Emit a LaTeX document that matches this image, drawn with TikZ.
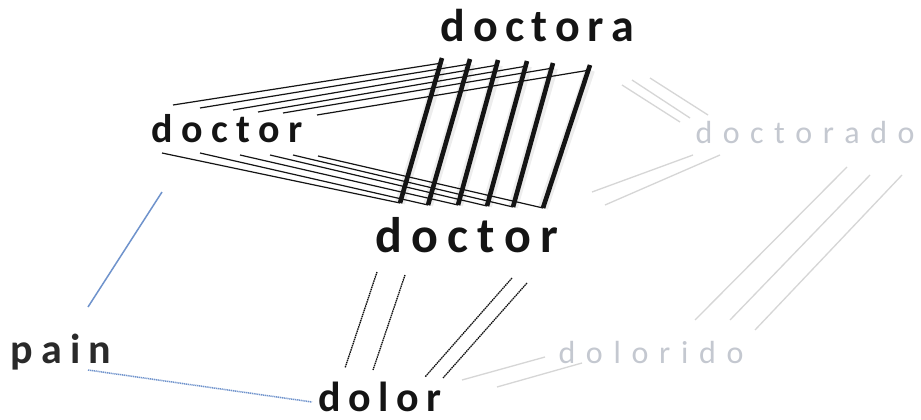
\documentclass[tikz,border=0pt]{standalone}
\usepackage{fontspec}
\setmainfont{Carlito}
\usetikzlibrary{calc}
\definecolor{ink}{HTML}{141414}
\definecolor{inkgray}{HTML}{2A2A2A}
\definecolor{faint}{HTML}{C4C8D0}
\definecolor{faintline}{HTML}{D6D6D6}
\definecolor{bluel}{HTML}{6F93CC}
\newdimen\spckk
\def\spcword#1#2\relax{#1\spcrest#2\relax}
\def\spcrest#1{\ifx#1\relax\else\kern\spckk#1\expandafter\spcrest\fi}
\newcommand\spcd[2]{\spckk=#1\relax\spcword#2\relax}
\begin{document}
\begin{tikzpicture}[x=1pt,y=-1pt,
  word/.style={inner sep=0pt,anchor=base,text=ink},
  boldword/.style={word,font=\fontsize{#1}{#1}\selectfont\bfseries},
  lightword/.style={word,text=faint,font=\fontsize{#1}{#1}\selectfont},
  thinlink/.style={draw=ink,line width=1.2pt},
  thicklink/.style={draw=ink,line width=4.6pt},
  shadowlink/.style={draw=black,line width=10pt,opacity=0.07},
  dashlink/.style={draw=ink,line width=1.3pt,dash pattern=on 1.5pt off 0.7pt},
  fadelink/.style={draw=faintline,line width=1.3pt},
  bluelink/.style={draw=bluel,line width=1.5pt},
  bluedot/.style={draw=bluel,line width=1.5pt,dash pattern=on 1.2pt off 0.7pt}]
\useasboundingbox (0,0) rectangle (921,420);
\fill[white] (0,0) rectangle (921,420);

% words
\node[boldword=46] (doctora) at (537.5,42) {\spcd{7.5pt}{doctora}};
\node[boldword=40] (doctorL) at (227,142) {\spcd{8.5pt}{doctor}};
\node[boldword=50] (doctorB) at (467,252) {\spcd{9.3pt}{doctor}};
\node[lightword=32] (doctorado) at (805,143) {\spcd{10.5pt}{doctorado}};
\node[lightword=32] (dolorido) at (651,363) {\spcd{10.7pt}{dolorido}};
\node[boldword=42,text=inkgray] (pain) at (61,363) {\spcd{8pt}{pain}};
\node[boldword=42] (dolor) at (380,411) {\spcd{7.5pt}{dolor}};

% parallel links doctor -> doctora, doctor -> doctor, doctora -> doctor
\foreach \i/\sx/\sy/\tx/\ty/\ux/\uy/\bx/\by in {
  0/173/105/442/63/162/153/400/203,
  1/200/108/470/64/200/153/428/205,
  2/233/110/498/65/240/155/458/205,
  3/258/112/527/66/270/155/487/206,
  4/283/113/553/68/293/155/513/207,
  5/317/115/590/70/318/156/543/208}{
  \coordinate (s\i) at (\sx,\sy);
  \coordinate (t\i) at (\tx,\ty);
  \coordinate (u\i) at (\ux,\uy);
  \coordinate (b\i) at (\bx,\by);
}
\foreach \i in {0,...,5}{
  \draw[shadowlink] (t\i) -- (b\i);
}
\foreach \i in {0,...,5}{
  \draw[thinlink] (s\i) -- (t\i);
  \draw[thinlink] (u\i) -- (b\i);
}
\foreach \i in {0,...,5}{
  \draw[thicklink] ($(t\i)+(0,-5)$) -- (b\i);
}

% doctor -> dolor (dashed)
\coordinate (da1) at (377,272); \coordinate (db1) at (345,368);
\coordinate (da2) at (405,275); \coordinate (db2) at (373,370);
\coordinate (da3) at (512,278); \coordinate (db3) at (425,377);
\coordinate (da4) at (527,283); \coordinate (db4) at (443,378);
\foreach \i in {1,...,4}{\draw[dashlink] (da\i) -- (db\i);}

% blue links
\coordinate (pa1) at (162,192); \coordinate (pb1) at (88,307);
\draw[bluelink] (pa1) -- (pb1);
\coordinate (pa2) at (88,370); \coordinate (pb2) at (312,402);
\draw[bluedot] (pa2) -- (pb2);

% faint links
\foreach \a/\b/\c/\d [count=\n] in {
  622/85/680/122, 632/80/690/118, 650/78/708/115,
  592/192/693/155, 605/205/720/155,
  847/167/695/320, 870/175/730/320, 902/175/755/330,
  462/380/545/357, 497/387/582/363}{
  \coordinate (fa\n) at (\a,\b);
  \coordinate (fb\n) at (\c,\d);
  \draw[fadelink] (fa\n) -- (fb\n);
}
\end{tikzpicture}
\end{document}
